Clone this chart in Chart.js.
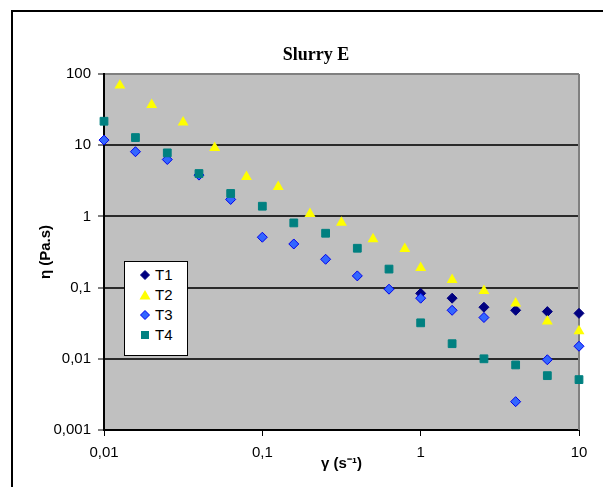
<!DOCTYPE html>
<html><head><meta charset="utf-8">
<script src="https://cdn.jsdelivr.net/npm/chart.js@4.4.0/dist/chart.umd.min.js"></script>
<style>
html,body{margin:0;padding:0;background:#fff;}
#wrap{position:relative;width:603px;height:487px;overflow:hidden;}
#legend{position:absolute;left:124px;top:261px;width:62px;height:93px;background:#fff;border:1px solid #000;font:15px "Liberation Sans",Arial,sans-serif;color:#000;}
.item{position:absolute;left:0;width:62px;height:20px;line-height:20px;}
.item svg{position:absolute;left:14px;top:4px;}
.item span{position:absolute;left:30px;top:0;}
</style></head><body>
<div id="wrap"><canvas id="c" width="603" height="487"></canvas><div id="legend"></div></div>
<script>
const chartTitle = 'Slurry E';
const xTitle = 'γ (s⁻¹)';
const yTitle = 'η (Pa.s)';
const seriesNames = ['T1', 'T2', 'T3', 'T4'];

const xT1 = [1, 1.58, 2.51, 3.98, 6.31, 10];
const yT1 = [0.083, 0.071, 0.053, 0.048, 0.046, 0.0435];

const xT2 = [0.0126, 0.02, 0.0316, 0.05, 0.0794, 0.126, 0.2, 0.316, 0.5, 0.794, 1, 1.58, 2.51, 3.98, 6.31, 10];
const yT2 = [69, 37, 21, 9.2, 3.6, 2.6, 1.09, 0.82, 0.48, 0.35, 0.19, 0.129, 0.09, 0.06, 0.0336, 0.0245];

const xT34 = [0.01, 0.0158, 0.0251, 0.0398, 0.0631, 0.1, 0.158, 0.251, 0.398, 0.631, 1, 1.58, 2.51, 3.98, 6.31, 10];
const yT3 = [11.8, 8.1, 6.3, 3.8, 1.73, 0.51, 0.41, 0.25, 0.146, 0.095, 0.071, 0.048, 0.038, 0.0025, 0.0097, 0.015];
const yT4 = [21.7, 12.8, 7.8, 4.0, 2.1, 1.39, 0.81, 0.58, 0.357, 0.182, 0.032, 0.0163, 0.0100, 0.0082, 0.0058, 0.0051];

const xTickValues = [0.01, 0.1, 1, 10];
const xTickLabels = ['0,01', '0,1', '1', '10'];
const yTickValues = [0.001, 0.01, 0.1, 1, 10, 100];
const yTickLabels = ['0,001', '0,01', '0,1', '1', '10', '100'];

const pts = (xs, ys) => xs.map((x, i) => ({x: x, y: ys[i]}));
const FONT = '"Liberation Sans", Arial, sans-serif';

const styles = [
  {fill: '#000080', stroke: '#000080', shape: 'rectRot', r: 5, bw: 1, order: 3},
  {fill: '#FFFF00', stroke: '#FFFF00', shape: 'triangle', r: 6.3, bw: 0, order: 2},
  {fill: '#3366FF', stroke: '#0000EE', shape: 'rectRot', r: 5, bw: 1, order: 1},
  {fill: '#008080', stroke: '#008080', shape: 'rect', r: 5.5, bw: 1, order: 0}
];
const seriesData = [pts(xT1, yT1), pts(xT2, yT2), pts(xT34, yT3), pts(xT34, yT4)];

const datasets = seriesNames.map((n, i) => ({
  label: n,
  data: seriesData[i],
  pointStyle: styles[i].shape,
  pointRadius: styles[i].r,
  pointHoverRadius: styles[i].r,
  pointBackgroundColor: styles[i].fill,
  pointBorderColor: styles[i].stroke,
  pointBorderWidth: styles[i].bw,
  showLine: false,
  clip: false,
  order: styles[i].order
}));

const decor = {
  id: 'decor',
  beforeDraw(chart) {
    const {ctx, chartArea: a} = chart;
    ctx.save();
    ctx.fillStyle = '#C0C0C0';
    ctx.fillRect(a.left, a.top, a.right - a.left, a.bottom - a.top);
    ctx.fillStyle = '#000';
    ctx.fillRect(11, 10, 2, 487);
    ctx.fillRect(11, 10, 603, 2);
    ctx.restore();
  },
  beforeDatasetsDraw(chart) {
    const {ctx, chartArea: a} = chart;
    ctx.save();
    ctx.fillStyle = '#808080';
    ctx.fillRect(Math.round(a.right) - 1, a.top, 2, a.bottom - a.top);
    ctx.restore();
  },
  afterDraw(chart) {
    const {ctx} = chart;
    ctx.save();
    ctx.fillStyle = '#000';
    ctx.font = 'bold 18px "Liberation Serif", "Times New Roman", serif';
    ctx.textAlign = 'center';
    ctx.textBaseline = 'alphabetic';
    ctx.fillText(chartTitle, 316, 60);
    ctx.restore();
  }
};

new Chart(document.getElementById('c'), {
  type: 'scatter',
  data: {datasets: datasets},
  plugins: [decor],
  options: {
    responsive: false,
    animation: false,
    devicePixelRatio: 1,
    layout: {padding: {top: 74, right: 24, left: 0, bottom: 0}},
    plugins: {legend: {display: false}, title: {display: false}, tooltip: {enabled: false}},
    scales: {
      x: {
        type: 'logarithmic', min: 0.01, max: 10, position: 'bottom',
        afterBuildTicks: s => { s.ticks = xTickValues.map(v => ({value: v})); },
        afterFit: s => { s.height = 57; },
        ticks: {callback: (v, i) => xTickLabels[i], font: {family: FONT, size: 15}, color: '#000', padding: 8, maxRotation: 0, autoSkip: false},
        grid: {drawOnChartArea: false, drawTicks: true, tickLength: 6, color: '#000', lineWidth: 1},
        border: {display: true, color: '#000', width: 2},
        title: {display: true, text: xTitle, font: {family: FONT, size: 15, weight: 'bold'}, color: '#000', padding: {top: 0, bottom: 14}}
      },
      y: {
        type: 'logarithmic', min: 0.001, max: 100, position: 'left',
        afterBuildTicks: s => { s.ticks = yTickValues.map(v => ({value: v})); },
        afterFit: s => { s.width = 104; },
        ticks: {callback: (v, i) => yTickLabels[i], font: {family: FONT, size: 15}, color: '#000', padding: 7, autoSkip: false},
        grid: {color: c => (c.tick && c.tick.value === 100) ? '#808080' : '#2a2a2a', lineWidth: 2, tickLength: 6, tickColor: '#000', tickWidth: 1},
        border: {display: true, color: '#000', width: 2},
        title: {display: true, text: yTitle, font: {family: FONT, size: 15, weight: 'bold'}, color: '#000', padding: {top: 37, bottom: 0}}
      }
    }
  }
});

// HTML legend built from the same series names and styles
const shapesSvg = {
  rectRot: c => `<polygon points="6,1.5 10.5,6 6,10.5 1.5,6" fill="${c.fill}" stroke="${c.stroke}" stroke-width="1"/>`,
  triangle: c => `<polygon points="6,1 11.5,10.5 0.5,10.5" fill="${c.fill}"/>`,
  rect: c => `<rect x="2" y="2" width="8" height="8" fill="${c.fill}"/>`
};
const leg = document.getElementById('legend');
seriesNames.forEach((n, i) => {
  const d = document.createElement('div');
  d.className = 'item';
  d.style.top = (3 + i * 20) + 'px';
  d.innerHTML = `<svg width="12" height="12" viewBox="0 0 12 12">${shapesSvg[styles[i].shape](styles[i])}</svg><span>${n}</span>`;
  leg.appendChild(d);
});
</script>
</body></html>
